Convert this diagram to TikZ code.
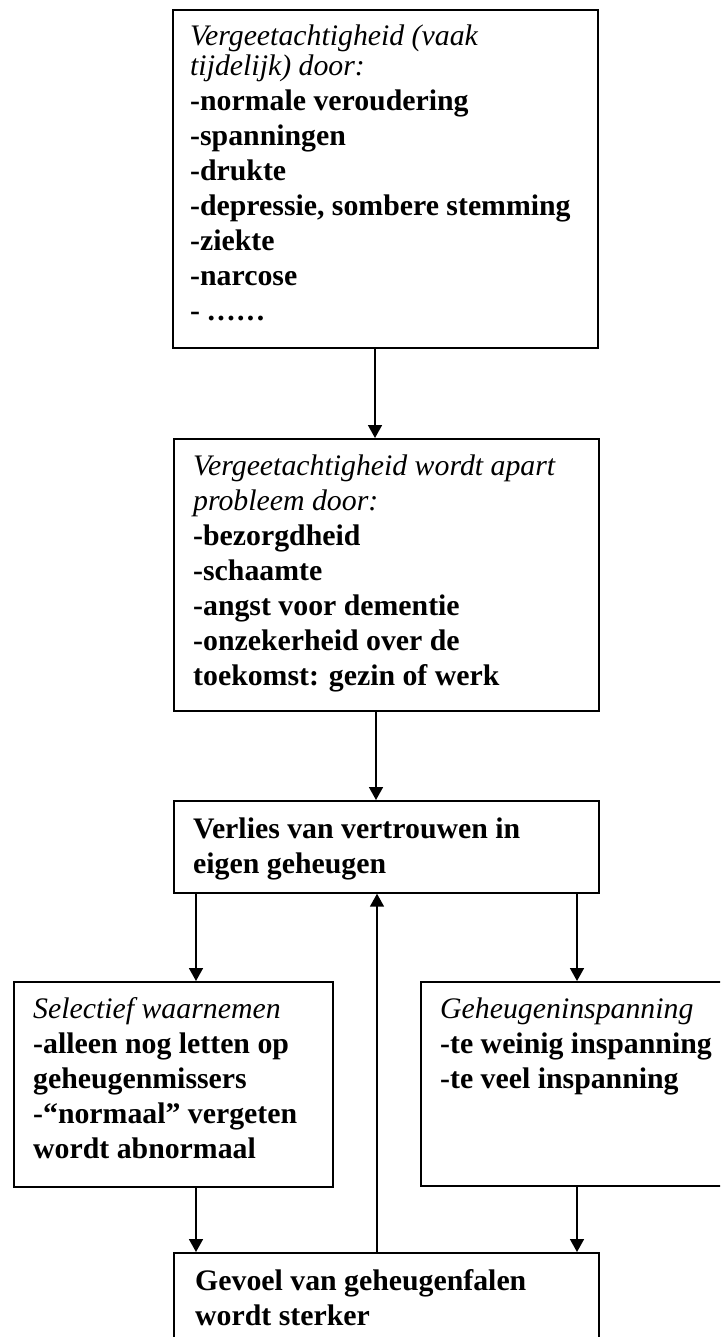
\documentclass[tikz,border=0pt]{standalone}
\usepackage{fontspec}
\setmainfont{Liberation Serif}
\usetikzlibrary{arrows.meta}
\begin{document}
\begin{tikzpicture}[x=1pt,y=-1pt,
  box/.style={draw=black,line width=1.7pt,rectangle,anchor=north west,inner sep=0pt},
  txt/.style={anchor=north west,inner sep=0pt,align=left,font=\fontsize{29.8}{35}\selectfont\bfseries},
  arr/.style={draw=black,line width=1.7pt,-{Triangle[width=14pt,length=13pt]}}]
\useasboundingbox (0,0) rectangle (720,1337);
\clip (0,0) rectangle (720,1337);
\newcommand{\fl}{\rule{0pt}{25pt}}
\newcommand{\dk}{\kern2.4pt}
% boxes
\node[box,minimum width=425pt,minimum height=338pt] (b1) at (172,9) {};
\node[box,minimum width=425pt,minimum height=272pt] (b2) at (173,438) {};
\node[box,minimum width=425pt,minimum height=92pt] (b3) at (173,800) {};
\node[box,minimum width=319pt,minimum height=205pt] (bl) at (13,981) {};
\node[box,minimum width=330pt,minimum height=204pt] (br) at (420,981) {};
\node[box,minimum width=425pt,minimum height=110pt] (b4) at (173,1252) {};
% texts
\node[txt] (t1) at (190,20) {\fl\textit{\mdseries Vergeetachtigheid (vaak}\\[-5pt]
\textit{\mdseries tijdelijk) door:}\\
-normale veroudering\\
-spanningen\\
-drukte\\
-depressie, sombere stemming\\
-ziekte\\
-narcose\\
- .\dk.\dk.\dk.\dk.\dk.};
\node[txt] (t2) at (193,450) {\fl\textit{\mdseries Vergeetachtigheid wordt apart}\\
\textit{\mdseries probleem door:}\\
-bezorgdheid\\
-schaamte\\
-angst voor dementie\\
-onzekerheid over de\\
toekomst: gezin of werk};
\node[txt] (t3) at (193,813) {\fl Verlies van vertrouwen in\\
eigen geheugen};
\node[txt] (tl) at (33,993) {\fl\textit{\mdseries Selectief waarnemen}\\
-alleen nog letten op\\
geheugenmissers\\
-“normaal” vergeten\\
wordt abnormaal};
\node[txt] (tr) at (440,993) {\fl\textit{\mdseries Geheugeninspanning}\\
-te weinig inspanning\\
-te veel inspanning};
\node[txt] (t4) at (195,1265) {\fl Gevoel van geheugenfalen\\
wordt sterker};
% connectors
\draw[arr] (375,0 |- b1.south) -- (375,0 |- b2.north);
\draw[arr] (376,0 |- b2.south) -- (376,0 |- b3.north);
\draw[arr] (196,0 |- b3.south) -- (196,0 |- bl.north);
\draw[arr] (577,0 |- b3.south) -- (577,0 |- br.north);
\draw[arr] (196,0 |- bl.south) -- (196,0 |- b4.north);
\draw[arr] (577,0 |- br.south) -- (577,0 |- b4.north);
\draw[arr] (377,0 |- b4.north) -- (377,0 |- b3.south);
\end{tikzpicture}
\end{document}
